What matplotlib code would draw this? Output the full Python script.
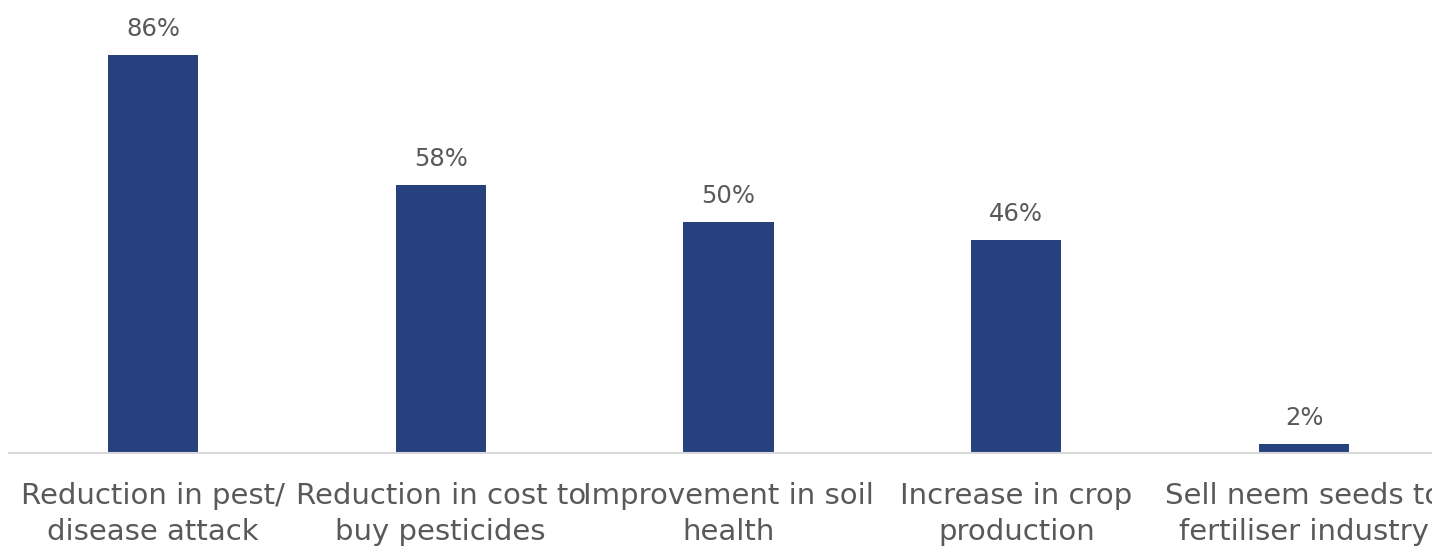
import matplotlib.pyplot as plt

# Reported benefits of neem-based inputs (% of respondents)
categories = ['Reduction in pest/\ndisease attack', 'Reduction in cost to\nbuy pesticides',
              'Improvement in soil\nhealth', 'Increase in crop\nproduction',
              'Sell neem seeds to\nfertiliser industry']
values = [86, 58, 50, 46, 2]

bar_color = '#27407E'
text_color = '#595959'

fig = plt.figure(figsize=(14.32, 5.46), dpi=100)
# axes run a bit past the right edge of the figure
ax = fig.add_axes([9 / 1432, 93 / 546, 1439 / 1432, 453 / 546])

x = range(len(categories))
bars = ax.bar(x, values, width=0.313, color=bar_color, zorder=2)

for rect, v in zip(bars, values):
    ax.annotate(f'{v}%', (rect.get_x() + rect.get_width() / 2, v),
                xytext=(0, 10), textcoords='offset points',
                ha='center', va='bottom', fontsize=17.5, color=text_color)

ax.set_xlim(-0.5, len(categories) - 0.5)
ax.set_ylim(0, 97.9)
ax.set_xticks(list(x))
ax.set_xticklabels(categories, fontsize=21, color=text_color, linespacing=1.35)
ax.tick_params(axis='x', length=0, pad=21)
ax.set_yticks([])

for side in ['top', 'right', 'left']:
    ax.spines[side].set_visible(False)
ax.spines['bottom'].set_color('#D9D9D9')
ax.spines['bottom'].set_linewidth(1.5)

fig.savefig('out.png', dpi=100)
